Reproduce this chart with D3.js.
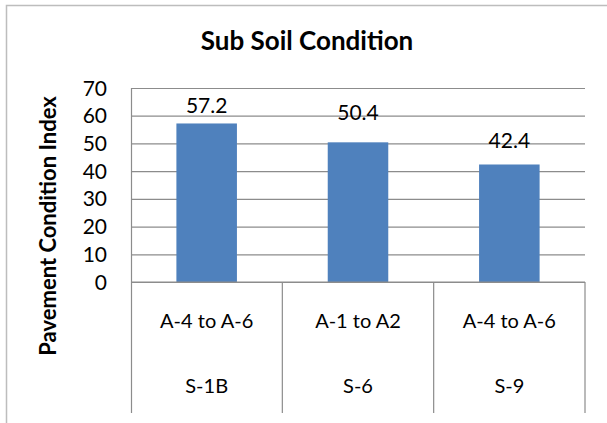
<!DOCTYPE html>
<html>
<head>
<meta charset="utf-8">
<script src="https://cdn.jsdelivr.net/npm/d3@7"></script>
<style>
  body { margin: 0; background: #fff; }
  text { font-family: Lato, "Open Sans", sans-serif; fill: #000; }
</style>
</head>
<body>
<div id="chart"></div>
<script>
// data
var sites = ["S-1B", "S-6", "S-9"];
var soilClass = ["A-4 to A-6", "A-1 to A2", "A-4 to A-6"];
var pci = [57.2, 50.4, 42.4];
var yTicks = [0, 10, 20, 30, 40, 50, 60, 70];

// layout
var svgWidth = 607;
var svgHeight = 423;
var plot = { left: 131, right: 585, top: 88, bottom: 282, catBottom: 413 };
var labelNudge = [18, 30, 24]; // data labels sit at different heights in the original

var svg = d3.select("#chart")
  .append("svg")
  .attr("width", svgWidth)
  .attr("height", svgHeight);

// outer chart border (only top and left show)
svg.append("path")
  .attr("d", "M6.5," + svgHeight + " V5.5 H" + svgWidth)
  .attr("fill", "none")
  .attr("stroke", "#bdbdbd")
  .attr("stroke-width", 1.5);

var x = d3.scaleBand()
  .domain(sites)
  .range([plot.left, plot.right])
  .padding(0);

var y = d3.scaleLinear()
  .domain([0, 70])
  .range([plot.bottom, plot.top]);

// gridlines
svg.append("g")
  .attr("transform", "translate(" + plot.left + ",0)")
  .call(d3.axisLeft(y).tickValues(yTicks).tickSize(-(plot.right - plot.left)).tickFormat(""))
  .call(g => g.select(".domain").remove())
  .call(g => g.selectAll(".tick line").attr("stroke", "#8c8c8c").attr("stroke-width", 1.2));

// y tick labels
svg.append("g")
  .attr("transform", "translate(" + plot.left + ",0)")
  .call(d3.axisLeft(y).tickValues(yTicks).tickSize(0).tickPadding(24))
  .call(g => g.select(".domain").remove())
  .call(g => g.selectAll(".tick text")
    .style("font-size", "21px")
    .attr("fill", "#000")
    .attr("dy", "0.34em"));

// bars
var barW = x.bandwidth() * 0.4;
svg.selectAll("rect.bar")
  .data(pci)
  .enter()
  .append("rect")
  .attr("class", "bar")
  .attr("x", (d, i) => x(sites[i]) + (x.bandwidth() - barW) / 2)
  .attr("y", d => y(d))
  .attr("width", barW)
  .attr("height", d => y(0) - y(d))
  .attr("fill", "#4f81bd");

// data labels
svg.selectAll("text.val")
  .data(pci)
  .enter()
  .append("text")
  .attr("class", "val")
  .attr("x", (d, i) => x(sites[i]) + x.bandwidth() / 2)
  .attr("y", (d, i) => y(d) - labelNudge[i])
  .attr("dy", "0.35em")
  .attr("text-anchor", "middle")
  .style("font-size", "21px")
  .text(d => d.toFixed(1));

// value axis line + category axis with dividers
svg.append("line")
  .attr("x1", plot.left + 0.5).attr("x2", plot.left + 0.5)
  .attr("y1", plot.top).attr("y2", plot.catBottom)
  .attr("stroke", "#8c8c8c").attr("stroke-width", 1.2);

svg.append("line")
  .attr("x1", plot.left).attr("x2", plot.right)
  .attr("y1", plot.bottom).attr("y2", plot.bottom)
  .attr("stroke", "#8c8c8c").attr("stroke-width", 1.2);

svg.selectAll("line.div")
  .data(sites)
  .enter()
  .append("line")
  .attr("class", "div")
  .attr("x1", d => x(d) + x.bandwidth())
  .attr("x2", d => x(d) + x.bandwidth())
  .attr("y1", plot.bottom)
  .attr("y2", plot.catBottom)
  .attr("stroke", "#8c8c8c")
  .attr("stroke-width", 1.2);

// category labels, two rows
svg.selectAll("text.soil")
  .data(soilClass)
  .enter()
  .append("text")
  .attr("class", "soil")
  .attr("x", (d, i) => x(sites[i]) + x.bandwidth() / 2)
  .attr("y", 321)
  .attr("dy", "0.35em")
  .attr("text-anchor", "middle")
  .style("font-size", "20px")
  .text(d => d);

svg.selectAll("text.site")
  .data(sites)
  .enter()
  .append("text")
  .attr("class", "site")
  .attr("x", d => x(d) + x.bandwidth() / 2)
  .attr("y", 386)
  .attr("dy", "0.35em")
  .attr("text-anchor", "middle")
  .style("font-size", "20px")
  .text(d => d);

// title
svg.append("text")
  .attr("x", 307)
  .attr("y", 50)
  .attr("text-anchor", "middle")
  .style("font-size", "26px")
  .style("font-weight", "bold")
  .text("Sub Soil Condition");

// y axis title
svg.append("text")
  .attr("transform", "translate(56," + 226 + ") rotate(-90)")
  .attr("text-anchor", "middle")
  .style("font-size", "22px")
  .style("font-weight", "bold")
  .text("Pavement Condition Index");
</script>
</body>
</html>
